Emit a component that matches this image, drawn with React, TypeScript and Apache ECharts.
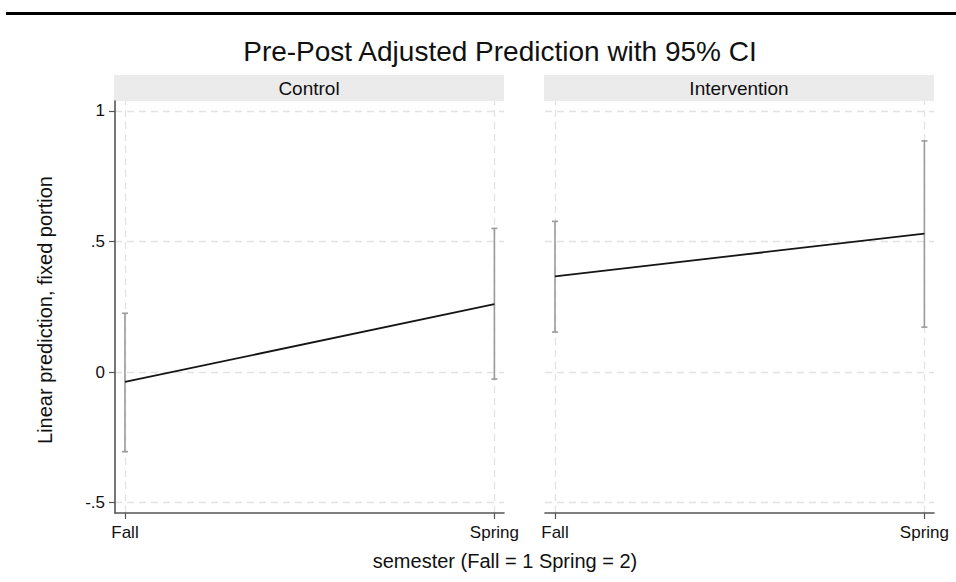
import React, { useEffect, useRef } from "react";
import * as echarts from "echarts";

const panels = ["Control", "Intervention"];
const semesterValues = [1, 2];
const semesterLabels = ["Fall", "Spring"];
const yTickValues = [-0.5, 0, 0.5, 1];
const yTickLabels = ["-.5", "0", ".5", "1"];
const controlMargin = [-0.038, 0.26];
const controlLower = [-0.305, -0.027];
const controlUpper = [0.225, 0.55];
const interventionMargin = [0.366, 0.53];
const interventionLower = [0.153, 0.172];
const interventionUpper = [0.577, 0.885];

const FONT = "'Liberation Sans', Arial, Helvetica, sans-serif";

export default function App() {
  const ref = useRef<HTMLDivElement>(null);
  useEffect(() => {
    if (!ref.current) return;
    const chart = echarts.init(ref.current, null, { renderer: "svg" });
    const margins = [controlMargin, interventionMargin];
    const lowers = [controlLower, interventionLower];
    const uppers = [controlUpper, interventionUpper];
    const gridLefts = [115, 545];

    const xAxes: any[] = [];
    const yAxes: any[] = [];
    const series: any[] = [];
    const grids: any[] = [];

    panels.forEach((p, i) => {
      grids.push({ left: gridLefts[i], top: 101, width: 389, height: 412, containLabel: false });
      xAxes.push({
        type: "value",
        gridIndex: i,
        min: 0.973,
        max: 2.026,
        z: 2,
        splitLine: { show: false },
        axisLine: { show: true, onZero: false, lineStyle: { color: "#555", width: 1.6 } },
        axisTick: { show: true, length: 6, customValues: semesterValues, lineStyle: { color: "#555", width: 1.2 } },
        axisLabel: {
          customValues: semesterValues,
          formatter: (v: number) => semesterLabels[semesterValues.indexOf(v)] ?? "",
          color: "#111",
          fontSize: 17,
          fontFamily: FONT,
          margin: 11,
        },
      });
      yAxes.push({
        type: "value",
        gridIndex: i,
        min: -0.54,
        max: 1.038,
        z: 2,
        splitLine: { show: false },
        axisLine: { show: i === 0, onZero: false, lineStyle: { color: "#555", width: 1.6 } },
        axisTick: { show: i === 0, length: 6, customValues: yTickValues, lineStyle: { color: "#555", width: 1.2 } },
        axisLabel: {
          show: i === 0,
          customValues: yTickValues,
          formatter: (v: number) => {
            const k = yTickValues.findIndex((t) => Math.abs(t - v) < 1e-9);
            return k >= 0 ? yTickLabels[k] : "";
          },
          color: "#111",
          fontSize: 17,
          fontFamily: FONT,
          margin: 10,
        },
      });
      const lineData = semesterValues.map((s, k) => [s, margins[i][k]]);
      series.push({
        type: "line",
        xAxisIndex: i,
        yAxisIndex: i,
        data: lineData,
        symbol: "none",
        lineStyle: { opacity: 0 },
        silent: true,
        z: 1,
        markLine: {
          silent: true,
          z: 1,
          symbol: ["none", "none"],
          label: { show: false },
          lineStyle: { type: [7, 5], color: "#e2e2e2", width: 1.3 },
          data: [
            ...yTickValues.map((v) => ({ yAxis: v })),
            ...semesterValues.map((v) => ({ xAxis: v })),
          ],
        },
      });
      series.push({
        type: "custom",
        xAxisIndex: i,
        yAxisIndex: i,
        z: 6,
        data: semesterValues.map((s, k) => [s, lowers[i][k], uppers[i][k]]),
        encode: { x: 0, y: [1, 2] },
        renderItem: (params: any, api: any) => {
          const x = api.value(0);
          const lo = api.coord([x, api.value(1)]);
          const hi = api.coord([x, api.value(2)]);
          const w = 3;
          const st = { stroke: "#9a9a9a", lineWidth: 1.6 };
          return {
            type: "group",
            children: [
              { type: "line", shape: { x1: lo[0], y1: lo[1], x2: hi[0], y2: hi[1] }, style: st },
              { type: "line", shape: { x1: lo[0] - w, y1: lo[1], x2: lo[0] + w, y2: lo[1] }, style: st },
              { type: "line", shape: { x1: hi[0] - w, y1: hi[1], x2: hi[0] + w, y2: hi[1] }, style: st },
            ],
          };
        },
      });
      series.push({
        type: "line",
        name: p,
        xAxisIndex: i,
        yAxisIndex: i,
        data: lineData,
        symbol: "none",
        z: 8,
        lineStyle: { color: "#151515", width: 1.8 },
      });
    });

    const graphics: any[] = [
      { type: "rect", shape: { x: 6, y: 12, width: 950, height: 3 }, style: { fill: "#000" } },
      {
        type: "text",
        x: 500,
        y: 51,
        style: { text: "Pre-Post Adjusted Prediction with 95% CI", fontSize: 28, fontFamily: FONT, fill: "#111", align: "center", verticalAlign: "middle" },
      },
      {
        type: "text",
        x: 45,
        y: 310,
        rotation: Math.PI / 2,
        style: { text: "Linear prediction, fixed portion", fontSize: 20, fontFamily: FONT, fill: "#111", align: "center", verticalAlign: "middle" },
      },
      {
        type: "text",
        x: 505,
        y: 561,
        style: { text: "semester (Fall = 1 Spring = 2)", fontSize: 20, fontFamily: FONT, fill: "#111", align: "center", verticalAlign: "middle" },
      },
    ];
    panels.forEach((p, i) => {
      graphics.push({ type: "rect", z: -1, shape: { x: gridLefts[i] - 1, y: 75, width: 390, height: 26 }, style: { fill: "#ebebeb" } });
      graphics.push({
        type: "text",
        x: gridLefts[i] + 194,
        y: 88,
        style: { text: p, fontSize: 19, fontFamily: FONT, fill: "#111", align: "center", verticalAlign: "middle" },
      });
    });

    chart.setOption({
      animation: false,
      backgroundColor: "#fff",
      grid: grids,
      xAxis: xAxes,
      yAxis: yAxes,
      series,
      graphic: graphics,
    });
    return () => chart.dispose();
  }, []);
  return <div ref={ref} style={{ width: 956, height: 582, position: "absolute", left: 0, top: 0 }} />;
}
